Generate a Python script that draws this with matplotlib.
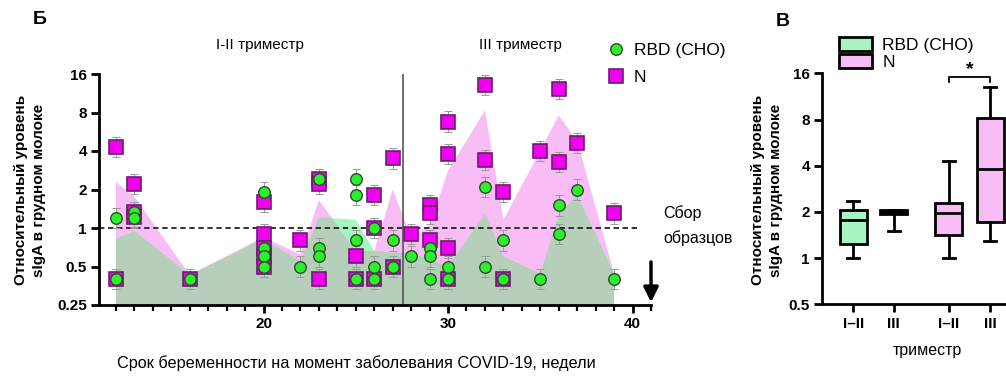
import numpy as np
import matplotlib
matplotlib.use("Agg")
import matplotlib.pyplot as plt
from matplotlib.lines import Line2D
from matplotlib.patches import Patch, Polygon
from matplotlib.ticker import FixedLocator, MultipleLocator, NullFormatter

plt.rcParams['font.family'] = ['Liberation Sans', 'DejaVu Sans']

# ---- data: panel Б (scatter by gestational week) ----
n_weeks = [12, 12, 13, 13, 13, 16, 20, 20, 20, 20, 20, 22, 23, 23, 23, 25, 25,
           26, 26, 26, 27, 27, 28, 29, 29, 29, 30, 30, 30, 30, 32, 32, 33, 33,
           35, 36, 36, 37, 39]
n_vals = [4.3, 0.4, 2.2, 1.33, 1.23, 0.4, 1.6, 0.9, 0.7, 0.6, 0.5, 0.8, 2.4, 2.2, 0.4, 0.6, 0.4,
          1.8, 1.0, 0.4, 3.5, 0.5, 0.9, 1.52, 1.3, 0.8, 6.8, 3.8, 0.7, 0.4, 13.2, 3.4, 1.9, 0.4,
          4.0, 12.2, 3.3, 4.6, 1.3]

rbd_weeks = [12, 12, 13, 13, 16, 20, 20, 20, 20, 22, 23, 23, 23, 25, 25, 25, 25,
             26, 26, 26, 27, 27, 28, 29, 29, 29, 30, 30, 32, 32, 33, 33, 35, 36, 36, 37, 39]
rbd_vals = [1.2, 0.4, 1.33, 1.2, 0.4, 1.9, 0.7, 0.6, 0.5, 0.5, 2.4, 0.7, 0.6, 2.4, 1.8, 0.8, 0.4,
            1.0, 0.5, 0.4, 0.8, 0.5, 0.6, 0.7, 0.6, 0.4, 0.5, 0.4, 2.1, 0.5, 0.8, 0.4, 0.4, 1.5, 0.9, 2.0, 0.4]

# shaded ranges
area_weeks = [12, 13, 16, 20, 22, 23, 25, 26, 27, 28, 29, 30, 32, 33, 35, 36, 37, 39]
n_area = [2.3, 1.75, 0.43, 0.85, 0.62, 1.65, 0.66, 0.66, 2.0, 0.85, 1.05, 2.8, 8.3, 1.16, 4.0, 7.6, 4.8, 0.44]
rbd_area = [0.82, 0.95, 0.43, 0.82, 0.55, 1.21, 1.16, 0.66, 0.64, 0.64, 0.57, 0.5, 1.29, 0.6, 0.44, 1.27, 1.82, 0.44]

# ---- data: panel В (box plots by trimester) ----
box_labels = ['I–II', 'III', 'I–II', 'III']
box_lo = [1.0, 1.5, 1.0, 1.3]
box_q1 = [1.24, 1.95, 1.41, 1.73]
box_med = [1.78, 2.0, 1.97, 3.78]
box_q3 = [2.07, 2.07, 2.3, 8.2]
box_hi = [2.35, 2.07, 4.28, 13.1]

pink = '#f9bdf6'
mint = '#a8f5c2'
overlap = '#b6cfbb'
sq_face = '#f000f0'
sq_edge = '#6a1f6a'
ci_face = '#2cf02c'
ci_edge = '#2d4a2d'

W, H = 1006, 381
fig = plt.figure(figsize=(W / 100, H / 100), dpi=100)


def fx(px):
    return px / W


def fy(py):
    return 1 - py / H


# ================= panel Б =================
ax = fig.add_axes([fx(99.3), fy(305), fx(651) - fx(99.3), fy(74) - fy(305)])
ax.set_yscale('log', base=2)
ax.set_xlim(11.1, 41.0)
ax.set_ylim(0.25, 16)

base = [0.25] * len(area_weeks)
pink_poly = Polygon(list(zip(area_weeks, n_area)) + list(zip(area_weeks[::-1], base)),
                    closed=True, facecolor=pink, edgecolor='none', zorder=1)
ax.add_patch(pink_poly)
ax.add_patch(Polygon(list(zip(area_weeks, rbd_area)) + list(zip(area_weeks[::-1], base)),
                     closed=True, facecolor=mint, edgecolor='none', zorder=1.1))
ov = Polygon(list(zip(area_weeks, rbd_area)) + list(zip(area_weeks[::-1], base)),
             closed=True, facecolor=overlap, edgecolor='none', zorder=1.2)
ax.add_patch(ov)
ov.set_clip_path(pink_poly)

ax.hlines(1, 11.1, 40.3, colors='#222222', linestyles=(0, (3, 2)), lw=1.3, zorder=2)
ax.axvline(27.55, color='#555555', lw=1.2, zorder=2)

err = 1.2
nv = np.array(n_vals)
rv = np.array(rbd_vals)
ax.errorbar(n_weeks, nv, yerr=[nv - nv / err, nv * err - nv], fmt='none',
            ecolor='#9a9a9a', elinewidth=0.7, capsize=3, capthick=0.7, zorder=3)
ax.errorbar(rbd_weeks, rv, yerr=[rv - rv / err, rv * err - rv], fmt='none',
            ecolor='#9a9a9a', elinewidth=0.7, capsize=3, capthick=0.7, zorder=3)
ax.plot(n_weeks, n_vals, 's', ms=9.5, mfc=sq_face, mec=sq_edge, mew=1.2, zorder=4)
ax.plot(rbd_weeks, rbd_vals, 'o', ms=8.3, mfc=ci_face, mec=ci_edge, mew=1.0, zorder=5)

for s in ['top', 'right']:
    ax.spines[s].set_visible(False)
for s in ['left', 'bottom']:
    ax.spines[s].set_linewidth(2)
ax.yaxis.set_major_locator(FixedLocator([0.25, 0.5, 1, 2, 4, 8, 16]))
ax.yaxis.set_minor_locator(FixedLocator([]))
ax.set_yticklabels(['0.25', '0.5', '1', '2', '4', '8', '16'], fontsize=11, fontweight='bold')
ax.xaxis.set_major_locator(FixedLocator([20, 30, 40]))
ax.xaxis.set_minor_locator(MultipleLocator(1))
ax.set_xticklabels(['20', '30', '40'], fontsize=11, fontweight='bold')
ax.tick_params(axis='both', which='major', direction='out', length=6, width=2, pad=3)
ax.tick_params(axis='x', which='minor', direction='out', length=4, width=1.6)

ax.annotate('', xy=(41.0, 0.25), xytext=(41.0, 0.57),
            arrowprops=dict(arrowstyle='-|>', lw=2.5, color='black', mutation_scale=22),
            annotation_clip=False)

fig.text(fx(663), fy(213), 'Сбор', fontsize=11.5, va='center', ha='left')
fig.text(fx(663), fy(238), 'образцов', fontsize=11.5, va='center', ha='left')
fig.text(fx(260), fy(45), 'I-II триместр', fontsize=11, va='center', ha='center')
fig.text(fx(520), fy(45), 'III триместр', fontsize=11, va='center', ha='center')
fig.text(fx(40), fy(20), 'Б', fontsize=14, fontweight='bold', va='center', ha='center')
fig.text(fx(30), fy(190), 'Относительный уровень\nsIgA в грудном молоке', fontsize=11,
         fontweight='bold', rotation=90, va='center', ha='center', linespacing=1.3)
fig.text(fx(356), fy(363), 'Срок беременности на момент заболевания COVID-19, недели',
         fontsize=11.7, va='center', ha='center')

handles = [Line2D([], [], ls='none', marker='o', ms=8.3, mfc=ci_face, mec=ci_edge, mew=1.0),
           Line2D([], [], ls='none', marker='s', ms=9.5, mfc=sq_face, mec=sq_edge, mew=1.2)]
fig.legend(handles, ['RBD (CHO)', 'N'], loc='upper left', bbox_to_anchor=(fx(606), fy(43)),
           frameon=False, fontsize=12.5, handletextpad=0.4, labelspacing=0.7,
           borderaxespad=0, borderpad=0, handlelength=1.2)

# ================= panel В =================
bx = fig.add_axes([fx(822.3), fy(304.3), fx(1006) - fx(822.3), fy(73.3) - fy(304.3)])
bx.set_yscale('log', base=2)
pos = [1, 2, 3.37, 4.4]
stats = []
for i in range(4):
    stats.append(dict(whislo=box_lo[i], q1=box_q1[i], med=box_med[i], q3=box_q3[i],
                      whishi=box_hi[i], fliers=[]))
bp = bx.bxp(stats, positions=pos, widths=0.68, patch_artist=True, capwidths=0.3,
            boxprops=dict(lw=2, edgecolor='black'),
            medianprops=dict(color='black', lw=2),
            whiskerprops=dict(color='black', lw=2),
            capprops=dict(color='black', lw=2))
for b, c in zip(bp['boxes'], [mint, mint, pink, pink]):
    b.set_facecolor(c)
bx.set_xlim(0.23, 4.79)
bx.set_ylim(0.5, 16)
for s in ['top', 'right']:
    bx.spines[s].set_visible(False)
for s in ['left', 'bottom']:
    bx.spines[s].set_linewidth(2)
bx.yaxis.set_major_locator(FixedLocator([0.5, 1, 2, 4, 8, 16]))
bx.yaxis.set_minor_locator(FixedLocator([]))
bx.yaxis.set_minor_formatter(NullFormatter())
bx.set_yticklabels(['0.5', '1', '2', '4', '8', '16'], fontsize=11, fontweight='bold')
bx.set_xticks(pos)
bx.set_xticklabels(box_labels, fontsize=11, fontweight='bold')
bx.tick_params(axis='both', direction='out', length=6, width=2, pad=3)

# significance bracket
bx.plot([3.37, 3.37, 4.4, 4.4], [14.0, 15.2, 15.2, 14.0], color='black', lw=1.3, clip_on=False)
bx.text(3.9, 15.0, '*', fontsize=14, fontweight='bold', ha='center', va='bottom')

bhandles = [Patch(facecolor=mint, edgecolor='black', lw=2),
            Patch(facecolor=pink, edgecolor='black', lw=2)]
fig.legend(bhandles, ['RBD (CHO)', 'N'], loc='upper left', bbox_to_anchor=(fx(839), fy(37)),
           frameon=False, fontsize=12.5, handletextpad=0.6, labelspacing=0.05,
           borderaxespad=0, borderpad=0, handlelength=1.9, handleheight=0.85)

fig.text(fx(783), fy(22), 'В', fontsize=14, fontweight='bold', va='center', ha='center')
fig.text(fx(767), fy(190), 'Относительный уровень\nsIgA в грудном молоке', fontsize=11,
         fontweight='bold', rotation=90, va='center', ha='center', linespacing=1.3)
fig.text(fx(927), fy(350), 'триместр', fontsize=11.5, va='center', ha='center')

fig.savefig('out.png', dpi=100)
